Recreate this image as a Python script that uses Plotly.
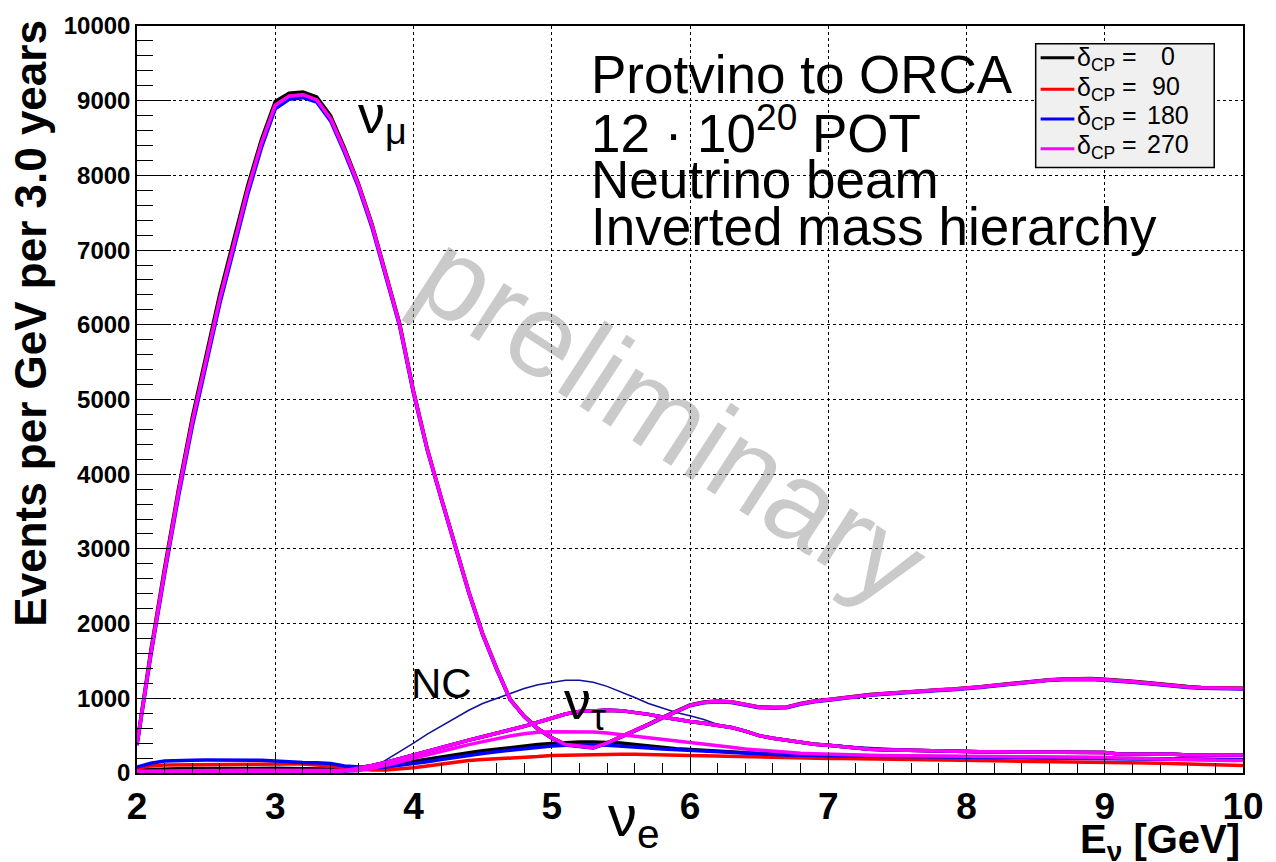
import plotly.graph_objects as go

# ---------------- data ----------------
E = [round(2.0 + 0.1 * i, 1) for i in range(81)]   # bin centres, GeV

# nu_mu CC disappearance spectrum, one per deltaCP
numu_270 = [380, 1600, 2700, 3750, 4700, 5550, 6350, 7070, 7800, 8430,
            8940, 9060, 9080, 9010, 8760, 8340, 7880, 7330, 6680, 6000,
            5100, 4330, 3680, 3050, 2420, 1860, 1400, 980, 760, 590,
            470, 380, 355, 340, 400, 480, 565, 650, 740, 828,
            905, 945, 960, 950, 915, 880, 875, 880, 925, 960,
            980, 1005, 1025, 1045, 1060, 1075, 1090, 1100, 1110, 1120,
            1130, 1150, 1170, 1190, 1205, 1230, 1245, 1255, 1262, 1260,
            1250, 1240, 1222, 1205, 1185, 1168, 1152, 1140, 1133, 1130, 1130]
numu_0 = [395, 1640, 2750, 3800, 4760, 5610, 6420, 7140, 7860, 8480,
          8990, 9100, 9115, 9050, 8800, 8370, 7900, 7350, 6700, 6020,
          5120, 4340, 3690, 3060, 2430, 1870, 1410, 985, 765, 595,
          475, 385, 360, 345, 405, 485, 570, 655, 745, 833,
          910, 950, 965, 955, 920, 885, 880, 885, 930, 965,
          985, 1010, 1030, 1050, 1065, 1080, 1095, 1105, 1115, 1125,
          1135, 1155, 1175, 1195, 1210, 1235, 1250, 1260, 1267, 1265,
          1255, 1245, 1227, 1210, 1190, 1173, 1157, 1145, 1138, 1135, 1135]
numu_90 = numu_270
numu_180 = [370, 1570, 2660, 3700, 4640, 5490, 6290, 7010, 7740, 8370,
            8890, 9020, 9040, 8980, 8730, 8310, 7850, 7300, 6660, 5980,
            5080, 4320, 3670, 3040, 2410, 1850, 1390, 975, 755, 585,
            465, 375, 350, 335, 395, 475, 560, 645, 735, 823,
            900, 940, 955, 945, 910, 875, 870, 875, 920, 955,
            975, 1000, 1020, 1040, 1055, 1070, 1085, 1095, 1105, 1115,
            1125, 1145, 1165, 1185, 1200, 1225, 1240, 1250, 1255, 1253,
            1243, 1233, 1215, 1198, 1178, 1161, 1145, 1133, 1126, 1123, 1123]

# nu_e CC appearance spectrum, one per deltaCP
nue_0 = [40, 48, 55, 58, 60, 62, 63, 64, 64, 63,
         62, 61, 60, 58, 55, 50, 48, 70, 100, 130,
         160, 190, 215, 243, 270, 298, 320, 342, 365, 380,
         395, 410, 415, 415, 412, 400, 380, 360, 340, 325,
         315, 303, 290, 280, 270, 262, 255, 250, 245, 242,
         240, 237, 234, 231, 228, 225, 222, 220, 218, 216,
         215, 213, 212, 211, 210, 209, 208, 207, 206, 205,
         205, 200, 197, 194, 191, 188, 186, 184, 182, 181, 180]
nue_90 = [60, 95, 108, 110, 112, 115, 120, 122, 122, 122,
          122, 122, 120, 110, 95, 70, 50, 40, 40, 50,
          70, 95, 120, 150, 168, 180, 188, 195, 205, 220,
          235, 240, 245, 248, 252, 252, 252, 250, 250, 245,
          235, 230, 225, 222, 220, 215, 210, 205, 200, 197,
          195, 193, 191, 190, 190, 189, 188, 186, 183, 180,
          175, 170, 165, 160, 158, 156, 155, 154, 153, 152,
          150, 145, 140, 135, 130, 125, 115, 105, 100, 100, 100]
nue_180 = [80, 130, 160, 170, 172, 173, 174, 174, 173, 172,
           160, 145, 140, 138, 128, 95, 80, 70, 80, 100,
           120, 150, 180, 210, 240, 262, 285, 305, 330, 345,
           360, 372, 380, 380, 372, 362, 348, 335, 320, 310,
           300, 290, 280, 270, 260, 252, 245, 240, 236, 232,
           230, 228, 226, 224, 222, 220, 218, 216, 214, 212,
           210, 209, 208, 207, 206, 205, 204, 203, 202, 201,
           200, 197, 194, 191, 188, 185, 183, 180, 178, 176, 175]
nue_270 = [25, 28, 30, 32, 34, 35, 36, 37, 37, 37,
           36, 35, 34, 32, 30, 28, 35, 60, 100, 145,
           195, 245, 290, 335, 380, 420, 460, 495, 525, 547,
           553, 555, 555, 550, 535, 515, 495, 475, 455, 430,
           410, 395, 370, 345, 320, 305, 290, 278, 265, 257,
           250, 246, 242, 238, 235, 232, 230, 228, 225, 222,
           220, 219, 218, 217, 216, 216, 215, 215, 215, 214,
           212, 200, 195, 190, 185, 180, 175, 172, 170, 168, 168]

# nu_tau CC appearance spectrum (same for all deltaCP)
nutau = [0, 0, 0, 0, 0, 0, 0, 0, 0, 0,
         0, 0, 0, 0, 0, 30, 60, 100, 140, 190,
         245, 300, 350, 395, 440, 485, 530, 575, 625, 680,
         740, 790, 825, 838, 840, 835, 815, 785, 750, 715,
         690, 665, 640, 610, 560, 500, 465, 437, 410, 385,
         370, 350, 335, 318, 310, 305, 300, 295, 290, 288,
         286, 285, 284, 283, 282, 281, 280, 279, 278, 277,
         275, 253, 253, 253, 253, 250, 240, 240, 240, 240, 240]

# neutral-current background
nc = [0, 0, 0, 0, 0, 0, 0, 0, 0, 0,
      0, 0, 0, 0, 0, 15, 20, 60, 170, 290,
      400, 520, 630, 740, 840, 930, 1000, 1070, 1130, 1180,
      1215, 1240, 1243, 1215, 1160, 1090, 1010, 930, 865, 810,
      765, 715, 650, 595, 545, 500, 460, 430, 410, 393,
      380, 365, 352, 340, 330, 322, 315, 310, 305, 300,
      292, 284, 283, 283, 282, 282, 282, 282, 282, 282,
      280, 262, 260, 260, 260, 245, 240, 238, 238, 238, 238]

colors = ["#000000", "#ff0000", "#0000ff", "#ff00ff"]
numu_sets = [numu_0, numu_90, numu_180, numu_270]
nue_sets = [nue_0, nue_90, nue_180, nue_270]
legend_numbers = ["0", "90", "180", "270"]

# ---------------- geometry helpers (pixel -> paper) ----------------
X0, X1 = 137, 1252
Y0, Y1 = 773, 18
W, H = 1276, 862


def px(p):
    return (p - X0) / (X1 - X0)


def py(p):
    return (Y0 - p) / (Y0 - Y1)


fig = go.Figure()

fig.add_trace(go.Scatter(x=E, y=nc, mode="lines", line=dict(color="#10109a", width=1.5),
                         showlegend=False, hoverinfo="skip"))

for col, numu, nue in zip(colors, numu_sets, nue_sets):
    for series in (nue, nutau, numu):
        fig.add_trace(go.Scatter(x=E, y=series, mode="lines", line=dict(color=col, width=3.5),
                                 showlegend=False, hoverinfo="skip"))

fig.update_layout(
    width=W, height=H,
    margin=dict(l=X0, r=W - X1, t=Y1, b=H - Y0, pad=0),
    paper_bgcolor="white", plot_bgcolor="white",
    showlegend=False,
    font=dict(family="Liberation Sans", color="black"),
)

fig.update_xaxes(range=[2, 10], dtick=1, tick0=2, ticks="inside", ticklen=20, tickwidth=1.2,
                 tickcolor="black", showline=True, linecolor="black", linewidth=1.5, mirror=True,
                 showgrid=True, gridcolor="black", griddash="dot", gridwidth=1, zeroline=False,
                 tickfont=dict(family="Liberation Sans", size=37, weight="bold", color="black"),
                 minor=dict(dtick=0.2, ticks="inside", ticklen=10, tickcolor="black", tickwidth=1.2,
                            showgrid=False))
fig.update_yaxes(range=[0, 10000], dtick=1000, tick0=0, ticks="inside", ticklen=34, tickwidth=1.2,
                 tickcolor="black", showline=True, linecolor="black", linewidth=1.5, mirror=True,
                 showgrid=True, gridcolor="black", griddash="dot", gridwidth=1, zeroline=False,
                 tickformat="d",
                 tickfont=dict(family="Liberation Sans", size=24, weight="bold", color="black"),
                 minor=dict(dtick=200, ticks="inside", ticklen=16, tickcolor="black", tickwidth=1.2,
                            showgrid=False))

shapes = []
ann = []
# legend box (drawn by hand, ROOT TLegend style)
shapes.append(dict(type="rect", xref="paper", yref="paper", x0=px(1043), x1=px(1223), y0=py(161), y1=py(36),
                   fillcolor="#f0f0f0", line=dict(color="black", width=1.5), layer="above"))
rows_line = [50, 82, 112, 142]
rows_text = [48, 79, 108, 137]
num_right = [1185, 1190, 1200, 1200]
for col, num, yl, yt, nr in zip(colors, legend_numbers, rows_line, rows_text, num_right):
    shapes.append(dict(type="line", xref="paper", yref="paper", x0=px(1048), x1=px(1082), y0=py(yl), y1=py(yl),
                       line=dict(color=col, width=3), layer="above"))
    ann.append(dict(x=px(1083), y=py(yt + 3), xref="paper", yref="paper", text="\u03b4<sub>CP</sub>",
                    showarrow=False, xanchor="left", yanchor="middle",
                    font=dict(family="Liberation Sans", size=25, color="black")))
    ann.append(dict(x=px(1138), y=py(yt), xref="paper", yref="paper", text="=",
                    showarrow=False, xanchor="center", yanchor="middle",
                    font=dict(family="Liberation Sans", size=25, color="black")))
    ann.append(dict(x=px(nr), y=py(yt), xref="paper", yref="paper", text=num,
                    showarrow=False, xanchor="right", yanchor="middle",
                    font=dict(family="Liberation Sans", size=25, color="black")))

# watermark
ann.append(dict(x=px(677), y=py(414), xref="paper", yref="paper", text="preliminary", showarrow=False,
                textangle=33, font=dict(family="Liberation Sans", size=118, color="rgba(150,150,150,0.5)")))
# info block
info = ["Protvino to ORCA", "12 \u00b7 10<sup>20</sup> POT", "Neutrino beam", "Inverted mass hierarchy"]
centres = [67, 123, 173, 221]
for t, c in zip(info, centres):
    ann.append(dict(x=px(593), y=py(c), xref="paper", yref="paper", text=t, showarrow=False,
                    xanchor="left", yanchor="middle",
                    font=dict(family="Liberation Sans", size=53, color="black")))
# curve labels
ann.append(dict(x=px(358), y=py(111), xref="paper", yref="paper", text="\u03bd<sub>\u03bc</sub>",
                showarrow=False, xanchor="left", yanchor="middle",
                font=dict(family="Liberation Sans", size=54, color="black")))
ann.append(dict(x=px(565), y=py(703), xref="paper", yref="paper", text="\u03bd<sub>\u03c4</sub>",
                showarrow=False, xanchor="left", yanchor="middle",
                font=dict(family="Liberation Sans", size=54, color="black")))
ann.append(dict(x=px(610), y=py(820), xref="paper", yref="paper", text="\u03bd<sub>e</sub>",
                showarrow=False, xanchor="left", yanchor="middle",
                font=dict(family="Liberation Sans", size=58, color="black")))
ann.append(dict(x=px(411), y=py(683), xref="paper", yref="paper", text="NC",
                showarrow=False, xanchor="left", yanchor="middle",
                font=dict(family="Liberation Sans", size=42, color="black")))
# axis titles
ann.append(dict(x=px(30), y=py(318), xref="paper", yref="paper", text="Events per GeV per 3.0 years",
                showarrow=False, textangle=-90, xanchor="center", yanchor="middle",
                font=dict(family="Liberation Sans", size=44, weight="bold", color="black")))
ann.append(dict(x=px(1251), y=py(843), xref="paper", yref="paper", text="E<sub>\u03bd</sub> [GeV]",
                showarrow=False, xanchor="right", yanchor="middle",
                font=dict(family="Liberation Sans", size=40, weight="bold", color="black")))
fig.update_layout(annotations=ann, shapes=shapes)

fig.write_html("out.html")
